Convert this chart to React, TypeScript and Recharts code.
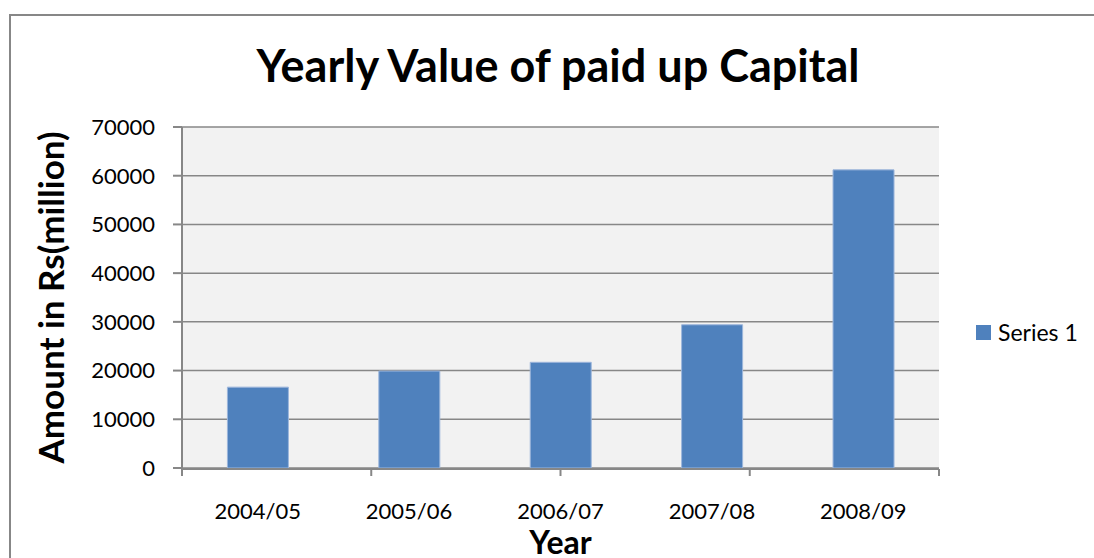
import { BarChart, Bar, XAxis, YAxis, CartesianGrid, Label } from 'recharts';

const years = ['2004/05', '2005/06', '2006/07', '2007/08', '2008/09'];
const paidUpCapital = [16600, 19900, 21700, 29400, 61200];
const yTicks = [0, 10000, 20000, 30000, 40000, 50000, 60000, 70000];
const edgeTicks = [0, 1, 2, 3, 4, 5];
const seriesName = 'Series 1';

const data = years.map((year, i) => ({ year, value: paidUpCapital[i] }));

const GRID = '#878787';
const BAR = '#4f81bd';
const FONT = 'Lato, "Open Sans", sans-serif';

const YLabel = ({ viewBox }: any) => {
  const cx = viewBox.x + 50;
  const cy = viewBox.y + viewBox.height / 2;
  return (
    <text
      x={cx}
      y={cy}
      transform={`rotate(-90 ${cx} ${cy})`}
      textAnchor="middle"
      dominantBaseline="central"
      fontFamily={FONT}
      fontWeight={700}
      fontSize={35}
      fill="#000"
    >
      Amount in Rs(million)
    </text>
  );
};

const XLabel = ({ viewBox }: any) => (
  <text
    x={viewBox.x + viewBox.width / 2}
    y={viewBox.y + 86}
    textAnchor="middle"
    fontFamily={FONT}
    fontWeight={700}
    fontSize={32}
    fill="#000"
  >
    Year
  </text>
);

export default function App() {
  return (
    <div
      style={{
        position: 'absolute',
        left: 0,
        top: 0,
        width: 1094,
        height: 558,
        overflow: 'hidden',
        background: '#fff',
        fontFamily: FONT,
      }}
    >
      {/* outer chart frame, runs off the bottom/right like the crop */}
      <div
        style={{
          position: 'absolute',
          left: 9,
          top: 14,
          width: 1200,
          height: 700,
          border: `2px solid ${GRID}`,
        }}
      />
      <div
        style={{
          position: 'absolute',
          left: 0,
          width: 1116,
          top: 37,
          textAlign: 'center',
          fontSize: 45,
          fontWeight: 700,
          color: '#000',
          lineHeight: '56px',
        }}
      >
        Yearly Value of paid up Capital
      </div>
      {/* legend */}
      <div
        style={{
          position: 'absolute',
          left: 976,
          top: 318,
          display: 'flex',
          alignItems: 'center',
          fontSize: 23,
          color: '#000',
          lineHeight: '28px',
        }}
      >
        <span style={{ width: 15, height: 15, background: BAR, marginRight: 7, display: 'inline-block' }} />
        <span>{seriesName}</span>
      </div>
      <div style={{ position: 'absolute', left: 0, top: 0 }}>
        <BarChart
          width={1094}
          height={558}
          data={data}
          margin={{ top: 127, right: 155, left: 0, bottom: 0 }}
          barCategoryGap="30%"
        >
          <CartesianGrid
            xAxisId="cat"
            vertical={false}
            fill="#f2f2f2"
            stroke={GRID}
            strokeWidth={1.5}
          />
          {/* category labels; this axis is stacked first, kept 1px tall */}
          <XAxis
            xAxisId="cat"
            dataKey="year"
            height={1}
            tickLine={false}
            tickSize={8}
            tickMargin={27}
            axisLine={false}
            tick={{ fill: '#000', fontSize: 22, fontFamily: FONT }}
          >
            <Label content={<XLabel />} />
          </XAxis>
          {/* axis line + Excel-style ticks between categories */}
          <XAxis
            xAxisId="edge"
            type="number"
            domain={[0, 5]}
            ticks={edgeTicks}
            allowDataOverflow
            tick={() => <g />}
            axisLine={{ stroke: GRID, strokeWidth: 2 }}
            tickSize={7}
            tickLine={{ stroke: GRID, strokeWidth: 2 }}
            height={89}
          />
          <YAxis
            width={182}
            domain={[0, 70000]}
            ticks={yTicks}
            tickSize={9}
            tickMargin={18}
            axisLine={{ stroke: GRID, strokeWidth: 2 }}
            tickLine={{ stroke: GRID, strokeWidth: 2 }}
            tick={{ fill: '#000', fontSize: 22, fontFamily: FONT }}
          >
            <Label content={<YLabel />} />
          </YAxis>
          <Bar
            xAxisId="cat"
            dataKey="value"
            name={seriesName}
            fill={BAR}
            stroke="#9db6dc"
            strokeWidth={1}
            isAnimationActive={false}
          />
        </BarChart>
      </div>
    </div>
  );
}
